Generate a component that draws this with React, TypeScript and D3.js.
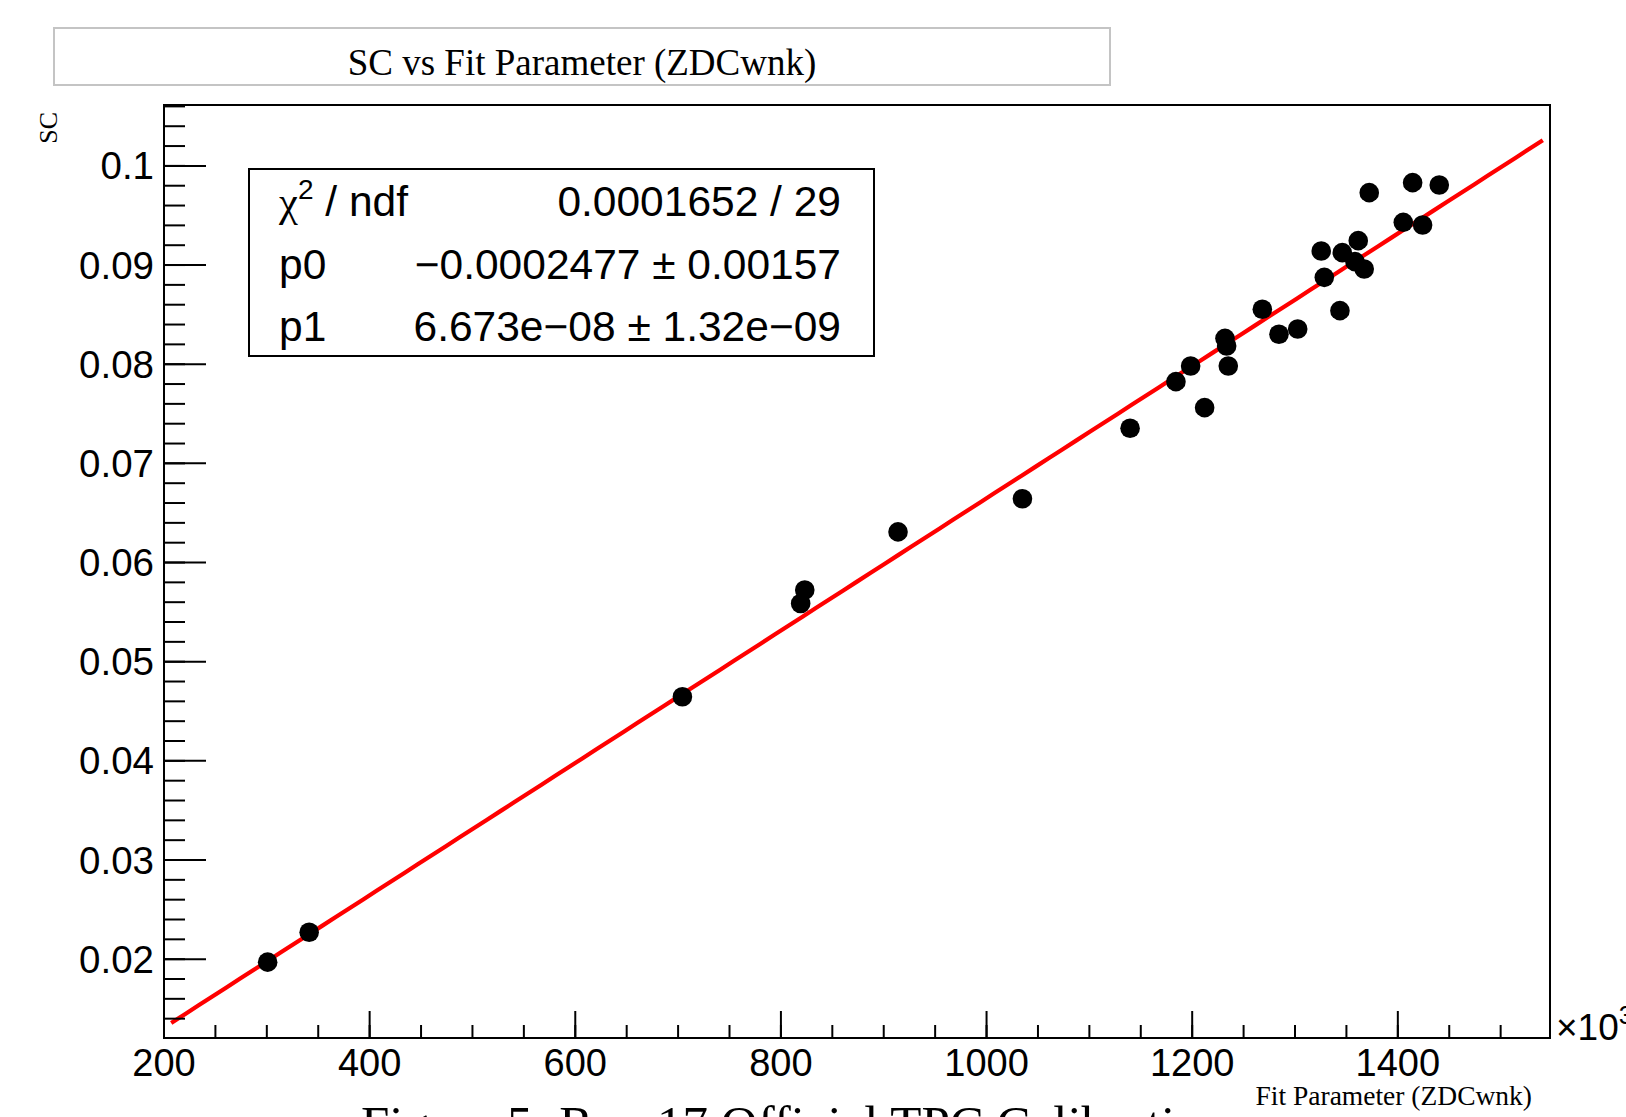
import React from "react";
import * as d3 from "d3";

// ---- data (x in units of 10^3, as shown on the axis) ----
const xValues = [
  300.8, 341.2, 704.2, 819.2, 823.2, 913.9, 1034.9, 1139.6, 1184.2, 1198.5,
  1212.1, 1231.9, 1233.5, 1235.1, 1268.2, 1284.4, 1302.6, 1343.7, 1325.5, 1328.5,
  1346.0, 1361.5, 1358.3, 1367.3, 1372.2, 1405.3, 1414.4, 1424.1, 1440.3,
];
const yValues = [
  0.0197, 0.02272, 0.04646, 0.05587, 0.05723, 0.06309, 0.06643, 0.07354, 0.07824, 0.07982,
  0.07562, 0.08261, 0.08184, 0.07982, 0.08554, 0.08302, 0.08355, 0.0854, 0.09142, 0.08876,
  0.09125, 0.09246, 0.09034, 0.0896, 0.0973, 0.09431, 0.09831, 0.09404, 0.09807,
];
const fitP0 = -0.0002477;
const fitP1 = 6.673e-8;
const xAxisMultiplier = 1000;
const fitXRange = [207, 1541];

const xDomain = [200, 1548];
const yDomain = [0.01205, 0.10614];
const xTicks = [200, 400, 600, 800, 1000, 1200, 1400];
const xTickLabels = ["200", "400", "600", "800", "1000", "1200", "1400"];
const xMinorStep = 50;
const yTicks = [0.02, 0.03, 0.04, 0.05, 0.06, 0.07, 0.08, 0.09, 0.1];
const yTickLabels = ["0.02", "0.03", "0.04", "0.05", "0.06", "0.07", "0.08", "0.09", "0.1"];
const yMinorStep = 0.002;

const titleText = "SC vs Fit Parameter (ZDCwnk)";
const xAxisTitle = "Fit Parameter (ZDCwnk)";
const yAxisTitle = "SC";
const captionText = "Figure 5: Run 17 Official TPC Calibration";
const statLabels = ["p0", "p1"];
const statValues = ["\u22120.0002477 \u00b1 0.00157", "6.673e\u221208 \u00b1 1.32e\u221209"];
const chiValue = "0.0001652 / 29";

const SANS = "'Liberation Sans', Arial, Helvetica, sans-serif";
const SERIF = "'Liberation Serif', 'Times New Roman', Times, serif";

export default function App() {
  const W = 1626;
  const H = 1117;
  const frame = { left: 164, right: 1550, top: 105, bottom: 1038 };

  const x = d3.scaleLinear().domain(xDomain).range([frame.left, frame.right]);
  const y = d3.scaleLinear().domain(yDomain).range([frame.bottom, frame.top]);

  const xMinor = d3
    .range(Math.ceil(xDomain[0] / xMinorStep), Math.floor(xDomain[1] / xMinorStep) + 1)
    .map((i) => i * xMinorStep);
  const yMinor = d3
    .range(Math.ceil(yDomain[0] / yMinorStep - 1e-6), Math.floor(yDomain[1] / yMinorStep + 1e-6) + 1)
    .map((i) => +(i * yMinorStep).toFixed(4))
    .filter((v) => v >= yDomain[0] && v <= yDomain[1]);

  const fitFn = (xv: number) => fitP0 + fitP1 * xv * xAxisMultiplier;
  const fitPts = d3.range(0, 101).map((i) => {
    const xv = fitXRange[0] + ((fitXRange[1] - fitXRange[0]) * i) / 100;
    return [xv, fitFn(xv)] as [number, number];
  });
  const line = d3
    .line<[number, number]>()
    .x((d) => x(d[0]))
    .y((d) => y(d[1]));

  const statBox = { x: 249, y: 169, w: 625, h: 187 };
  const rowH = statBox.h / 3;
  const statFont = 42.5;

  return (
    <div style={{ position: "absolute", left: 0, top: 0, width: W, height: H, overflow: "hidden", background: "#fff" }}>
      <svg width={W} height={H} style={{ display: "block" }}>
        <rect x={0} y={0} width={W} height={H} fill="#fff" />
        {/* title box */}
        <rect x={54} y={28} width={1056} height={57} fill="#fff" stroke="#c4c4c4" strokeWidth={2} />
        <text x={582} y={75} textAnchor="middle" fontFamily={SERIF} fontSize={37} fill="#000">
          {titleText}
        </text>

        {/* fit line */}
        <path d={line(fitPts) || ""} fill="none" stroke="#ff0000" strokeWidth={4.2} />

        {/* points */}
        {xValues.map((xv, i) => (
          <circle key={i} cx={x(xv)} cy={y(yValues[i])} r={9.8} fill="#000" />
        ))}

        {/* frame */}
        <rect
          x={frame.left}
          y={frame.top}
          width={frame.right - frame.left}
          height={frame.bottom - frame.top}
          fill="none"
          stroke="#000"
          strokeWidth={2}
        />

        {/* x ticks */}
        {xMinor.map((v) => (
          <line key={"xm" + v} x1={x(v)} x2={x(v)} y1={frame.bottom} y2={frame.bottom - 13} stroke="#000" strokeWidth={2} />
        ))}
        {xTicks.map((v, i) => (
          <g key={"xt" + v}>
            <line x1={x(v)} x2={x(v)} y1={frame.bottom} y2={frame.bottom - 27} stroke="#000" strokeWidth={2} />
            <text x={x(v)} y={1076} textAnchor="middle" fontFamily={SANS} fontSize={38} fill="#000">
              {xTickLabels[i]}
            </text>
          </g>
        ))}

        {/* y ticks */}
        {yMinor.map((v) => (
          <line key={"ym" + v} x1={frame.left} x2={frame.left + 21} y1={y(v)} y2={y(v)} stroke="#000" strokeWidth={2} />
        ))}
        {yTicks.map((v, i) => (
          <g key={"yt" + v}>
            <line x1={frame.left} x2={frame.left + 42} y1={y(v)} y2={y(v)} stroke="#000" strokeWidth={2} />
            <text x={154} y={y(v) + 13.5} textAnchor="end" fontFamily={SANS} fontSize={38.5} fill="#000">
              {yTickLabels[i]}
            </text>
          </g>
        ))}

        {/* x10^3 */}
        <text x={1556} y={1040} fontFamily={SANS} fontSize={37} fill="#000">
          {"\u00d710"}
          <tspan dy={-16} fontSize={26}>3</tspan>
        </text>

        {/* axis titles */}
        <text x={1532} y={1105} textAnchor="end" fontFamily={SERIF} fontSize={27.5} fill="#000">
          {xAxisTitle}
        </text>
        <text
          transform="translate(57,112) rotate(-90)"
          textAnchor="end"
          fontFamily={SERIF}
          fontSize={26}
          fill="#000"
        >
          {yAxisTitle}
        </text>

        {/* stats box */}
        <rect x={statBox.x} y={statBox.y} width={statBox.w} height={statBox.h} fill="#fff" stroke="#000" strokeWidth={2} />
        <text x={279} y={statBox.y + rowH * 0.5 + 16} fontFamily={SANS} fontSize={statFont} fill="#000">
          <tspan fontFamily={SERIF} fontSize={statFont}>{"\u03c7"}</tspan>
          <tspan dy={-17} fontSize={28}>2</tspan>
          <tspan dy={17}>{" / ndf"}</tspan>
        </text>
        <text x={841} y={statBox.y + rowH * 0.5 + 16} textAnchor="end" fontFamily={SANS} fontSize={statFont} fill="#000">
          {chiValue}
        </text>
        {statLabels.map((lab, i) => (
          <g key={lab}>
            <text x={279} y={statBox.y + rowH * (i + 1.5) + 16} fontFamily={SANS} fontSize={statFont} fill="#000">
              {lab}
            </text>
            <text
              x={841}
              y={statBox.y + rowH * (i + 1.5) + 16}
              textAnchor="end"
              fontFamily={SANS}
              fontSize={statFont}
              fill="#000"
            >
              {statValues[i]}
            </text>
          </g>
        ))}

        {/* caption (cut off at the page bottom, as in the source page) */}
        <text x={361} y={1141} fontFamily={SERIF} fontSize={51} fill="#000">
          {captionText}
        </text>
      </svg>
    </div>
  );
}
